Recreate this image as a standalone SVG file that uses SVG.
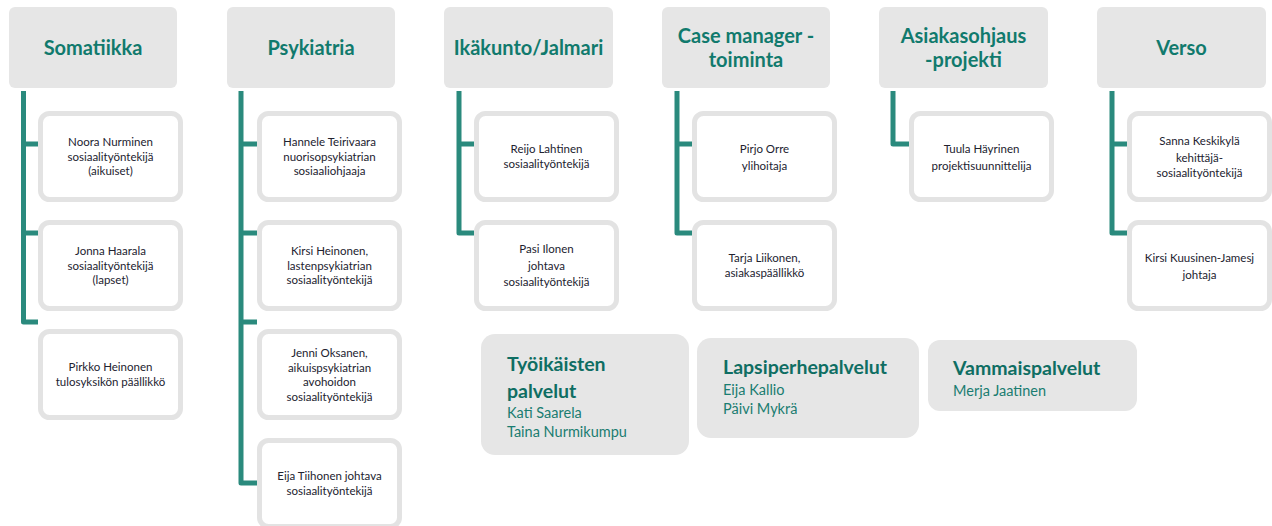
<svg xmlns="http://www.w3.org/2000/svg" width="1272" height="526" viewBox="0 0 1272 526">
<style>
.hd{fill:#e6e6e6}
.ht{font-family:Lato,"Liberation Sans",sans-serif;font-weight:bold;font-size:20px;fill:#117a6d;text-anchor:middle}
.cb{fill:#ffffff;stroke:#e3e3e3;stroke-width:5}
.ct{font-family:Lato,"Liberation Sans",sans-serif;font-size:11.5px;fill:#22222f;text-anchor:middle}
.cn{fill:none;stroke:#2a8a7d;stroke-width:5;stroke-linejoin:round}
.bb{fill:#e6e6e6}
.bt{font-family:Lato,"Liberation Sans",sans-serif;font-weight:bold;font-size:19.5px;fill:#0f6e63}
.bn{font-family:Lato,"Liberation Sans",sans-serif;font-size:14.5px;fill:#1a7d71}
</style>
<defs>
<clipPath id="clipTy"><rect x="481" y="334" width="208" height="107"/></clipPath>
</defs>

<g id="connectors">
<path class="cn" d="M23.5,91 V322 H38 M23.5,144 H38 M23.5,233 H38"/>
<path class="cn" d="M241,91 V483 H257 M241,144 H257 M241,233 H257 M241,322 H257"/>
<path class="cn" d="M459,91 V233 H474 M459,144 H474"/>
<path class="cn" d="M677,91 V233 H692 M677,144 H692"/>
<path class="cn" d="M893,91 V144 H909"/>
<path class="cn" d="M1112,91 V233 H1128 M1112,144 H1128"/>
</g>

<g id="somatiikka">
<rect class="hd" x="9" y="7" width="168" height="81" rx="6"/>
<text class="ht" x="93" y="55">Somatiikka</text>
</g>
<g id="psykiatria">
<rect class="hd" x="227" y="7" width="168" height="81" rx="6"/>
<text class="ht" x="311" y="55">Psykiatria</text>
</g>
<g id="ikakunto">
<rect class="hd" x="444" y="7" width="169" height="81" rx="6"/>
<text class="ht" x="528.5" y="55">Ikäkunto/Jalmari</text>
</g>
<g id="casemanager">
<rect class="hd" x="662" y="7" width="168" height="81" rx="6"/>
<text class="ht" x="746" y="43">Case manager -</text>
<text class="ht" x="746" y="67">toiminta</text>
</g>
<g id="asiakasohjaus">
<rect class="hd" x="879" y="7" width="169" height="81" rx="6"/>
<text class="ht" x="963.5" y="43">Asiakasohjaus</text>
<text class="ht" x="963.5" y="67">-projekti</text>
</g>
<g id="verso">
<rect class="hd" x="1097" y="7" width="169" height="81" rx="6"/>
<text class="ht" x="1181.5" y="55">Verso</text>
</g>

<g id="noora">
<rect class="cb" x="40.5" y="113.5" width="140" height="86" rx="9"/>
<text class="ct" x="110.5" y="146">Noora Nurminen</text>
<text class="ct" x="110.5" y="160.5">sosiaalityöntekijä</text>
<text class="ct" x="110.5" y="175">(aikuiset)</text>
</g>
<g id="jonna">
<rect class="cb" x="40.5" y="222.5" width="140" height="86" rx="9"/>
<text class="ct" x="110.5" y="255">Jonna Haarala</text>
<text class="ct" x="110.5" y="269.5">sosiaalityöntekijä</text>
<text class="ct" x="110.5" y="284">(lapset)</text>
</g>
<g id="pirkko">
<rect class="cb" x="40.5" y="331.5" width="140" height="86" rx="9"/>
<text class="ct" x="110.5" y="371">Pirkko Heinonen</text>
<text class="ct" x="110.5" y="386">tulosyksikön päällikkö</text>
</g>

<g id="hannele">
<rect class="cb" x="259.5" y="113.5" width="140" height="86" rx="9"/>
<text class="ct" x="329.5" y="146">Hannele Teirivaara</text>
<text class="ct" x="329.5" y="160.5">nuorisopsykiatrian</text>
<text class="ct" x="329.5" y="175">sosiaaliohjaaja</text>
</g>
<g id="kirsih">
<rect class="cb" x="259.5" y="222.5" width="140" height="86" rx="9"/>
<text class="ct" x="329.5" y="255">Kirsi Heinonen,</text>
<text class="ct" x="329.5" y="269.5">lastenpsykiatrian</text>
<text class="ct" x="329.5" y="284">sosiaalityöntekijä</text>
</g>
<g id="jenni">
<rect class="cb" x="259.5" y="331.5" width="140" height="86" rx="9"/>
<text class="ct" x="329.5" y="357">Jenni Oksanen,</text>
<text class="ct" x="329.5" y="371.5">aikuispsykiatrian</text>
<text class="ct" x="329.5" y="386">avohoidon</text>
<text class="ct" x="329.5" y="400.5">sosiaalityöntekijä</text>
</g>
<g id="eija">
<rect class="cb" x="259.5" y="440.5" width="140" height="86" rx="9"/>
<text class="ct" x="329.5" y="480">Eija Tiihonen johtava</text>
<text class="ct" x="329.5" y="494.5">sosiaalityöntekijä</text>
</g>

<g id="reijo">
<rect class="cb" x="476.5" y="113.5" width="140" height="86" rx="9"/>
<text class="ct" x="546.5" y="153">Reijo Lahtinen</text>
<text class="ct" x="546.5" y="167.5">sosiaalityöntekijä</text>
</g>
<g id="pasi">
<rect class="cb" x="476.5" y="222.5" width="140" height="86" rx="9"/>
<text class="ct" x="546.5" y="253">Pasi Ilonen</text>
<text class="ct" x="546.5" y="269.5">johtava</text>
<text class="ct" x="546.5" y="286">sosiaalityöntekijä</text>
</g>

<g id="pirjo">
<rect class="cb" x="694.5" y="113.5" width="140" height="86" rx="9"/>
<text class="ct" x="764.5" y="153">Pirjo Orre</text>
<text class="ct" x="764.5" y="170">ylihoitaja</text>
</g>
<g id="tarja">
<rect class="cb" x="694.5" y="222.5" width="140" height="86" rx="9"/>
<text class="ct" x="764.5" y="262">Tarja Liikonen,</text>
<text class="ct" x="764.5" y="276.5">asiakaspäällikkö</text>
</g>

<g id="tuula">
<rect class="cb" x="911.5" y="113.5" width="140" height="86" rx="9"/>
<text class="ct" x="981.5" y="153">Tuula Häyrinen</text>
<text class="ct" x="981.5" y="170">projektisuunnittelija</text>
</g>

<g id="sanna">
<rect class="cb" x="1129.5" y="113.5" width="140" height="86" rx="9"/>
<text class="ct" x="1199.5" y="145">Sanna Keskikylä</text>
<text class="ct" x="1199.5" y="162">kehittäjä-</text>
<text class="ct" x="1199.5" y="177">sosiaalityöntekijä</text>
</g>
<g id="kirsik">
<rect class="cb" x="1129.5" y="222.5" width="140" height="86" rx="9"/>
<text class="ct" x="1199.5" y="262">Kirsi Kuusinen-Jamesj</text>
<text class="ct" x="1199.5" y="279">johtaja</text>
</g>

<g id="tyoikaisten">
<rect class="bb" x="481" y="334" width="208" height="121" rx="14"/>
<text class="bt" x="507" y="371">Työikäisten</text>
<text class="bt" x="507" y="398">palvelut</text>
<text class="bn" x="507" y="418">Kati Saarela</text>
<text class="bn" x="507" y="437" clip-path="url(#clipTy)">Taina Nurmikumpu</text>
</g>
<g id="lapsiperhe">
<rect class="bb" x="697" y="338" width="222" height="100" rx="14"/>
<text class="bt" x="723" y="374">Lapsiperhepalvelut</text>
<text class="bn" x="723" y="395">Eija Kallio</text>
<text class="bn" x="723" y="414">Päivi Mykrä</text>
</g>
<g id="vammais">
<rect class="bb" x="928" y="340" width="209" height="71" rx="12"/>
<text class="bt" x="953" y="375">Vammaispalvelut</text>
<text class="bn" x="953" y="396">Merja Jaatinen</text>
</g>
</svg>
